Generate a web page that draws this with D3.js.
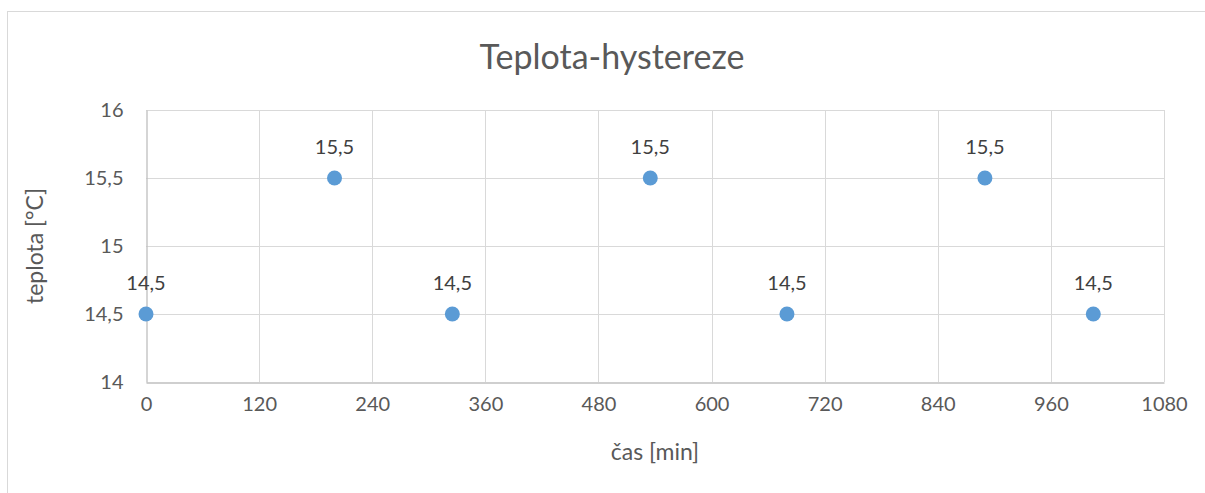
<!DOCTYPE html>
<html>
<head>
<meta charset="utf-8">
<script src="https://cdn.jsdelivr.net/npm/d3@7"></script>
<style>
  body { margin: 0; background: #fff; }
  svg { display: block; font-family: Lato, "Open Sans", sans-serif; }
</style>
</head>
<body>
<svg width="1205" height="493"></svg>
<script>
// data
var casMin = [0, 200, 325, 535, 680, 890, 1005];
var teplota = [14.5, 15.5, 14.5, 15.5, 14.5, 15.5, 14.5];
var xTicks = [0, 120, 240, 360, 480, 600, 720, 840, 960, 1080];
var yTicks = [14, 14.5, 15, 15.5, 16];

var svg = d3.select('svg');
var plotL = 146, plotR = 1164, plotT = 110, plotB = 382;

var x = d3.scaleLinear().domain([0, 1080]).range([plotL, plotR]);
var y = d3.scaleLinear().domain([14, 16]).range([plotB, plotT]);
var fmt = function(d) { return String(d).replace('.', ','); };

// chart border
svg.append('rect')
  .attr('x', 7.5).attr('y', 11.5)
  .attr('width', 1210).attr('height', 500)
  .attr('fill', 'none').attr('stroke', '#d9d9d9');

// grid
svg.append('g').selectAll('line').data(xTicks.slice(1)).enter().append('line')
  .attr('x1', d => Math.round(x(d)) + 0.5).attr('x2', d => Math.round(x(d)) + 0.5)
  .attr('y1', plotT).attr('y2', plotB)
  .attr('stroke', '#d9d9d9');
svg.append('g').selectAll('line').data(yTicks.slice(1)).enter().append('line')
  .attr('x1', plotL).attr('x2', plotR)
  .attr('y1', d => Math.round(y(d)) + 0.5).attr('y2', d => Math.round(y(d)) + 0.5)
  .attr('stroke', '#d9d9d9');

// axes
var xAxis = svg.append('g')
  .attr('transform', 'translate(0,' + (plotB + 0.5) + ')')
  .call(d3.axisBottom(x).tickValues(xTicks).tickSize(0).tickPadding(14).tickFormat(d3.format('d')));
var yAxis = svg.append('g')
  .attr('transform', 'translate(' + (plotL + 0.5) + ',0)')
  .call(d3.axisLeft(y).tickValues(yTicks).tickSize(0).tickPadding(23).tickFormat(fmt));
[xAxis, yAxis].forEach(function(a) {
  a.select('.domain').attr('stroke', '#bfbfbf').attr('stroke-width', 1.3);
  a.selectAll('text').attr('fill', '#595959').attr('font-size', 20)
    .attr('font-family', 'Lato, "Open Sans", sans-serif');
});
xAxis.selectAll('text').attr('dy', '0.71em');

// points
svg.append('g').selectAll('circle').data(casMin).enter().append('circle')
  .attr('cx', (d, i) => x(d)).attr('cy', (d, i) => y(teplota[i]))
  .attr('r', 7.5).attr('fill', '#5b9bd5');

// data labels
svg.append('g').selectAll('text').data(casMin).enter().append('text')
  .attr('x', (d, i) => x(d)).attr('y', (d, i) => y(teplota[i]) - 24)
  .attr('text-anchor', 'middle').attr('fill', '#404040').attr('font-size', 20)
  .text((d, i) => fmt(teplota[i]));

// titles
svg.append('text').attr('x', 612).attr('y', 69).attr('text-anchor', 'middle')
  .attr('fill', '#595959').attr('font-size', 34).text('Teplota-hystereze');
svg.append('text').attr('x', 655).attr('y', 460).attr('text-anchor', 'middle')
  .attr('fill', '#595959').attr('font-size', 23).text('čas [min]');
svg.append('text').attr('transform', 'translate(43,246) rotate(-90)').attr('text-anchor', 'middle')
  .attr('fill', '#595959').attr('font-size', 23).text('teplota [°C]');
</script>
</body>
</html>
